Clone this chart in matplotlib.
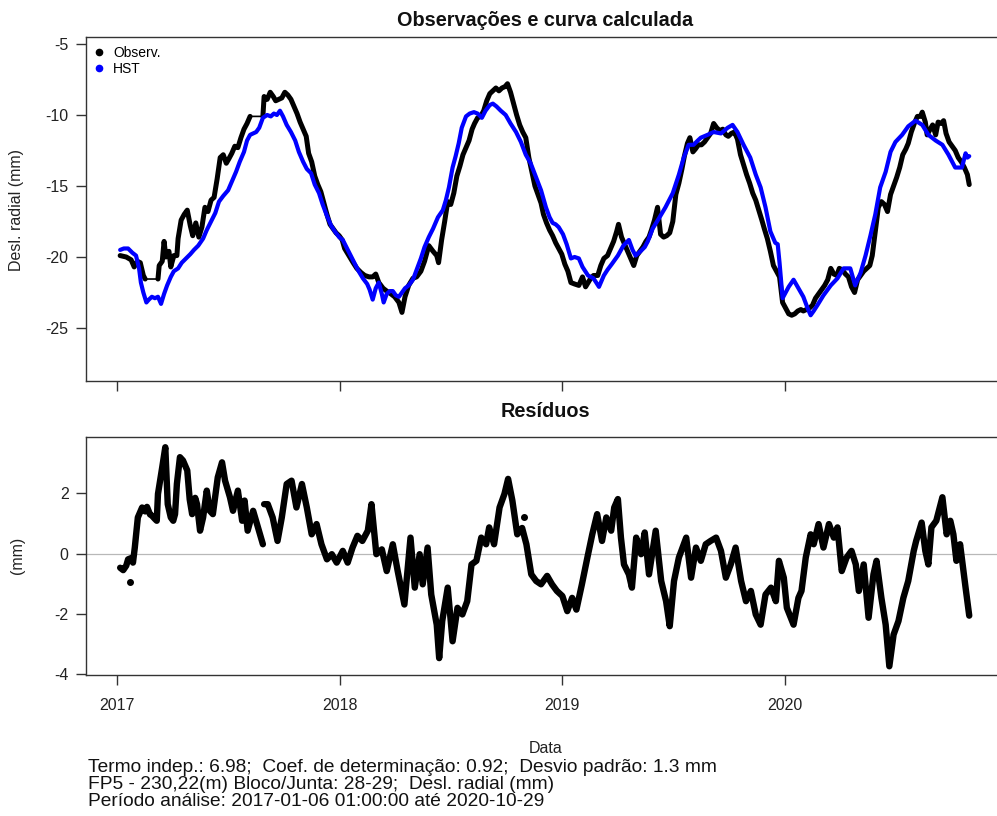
import numpy as np
import matplotlib
matplotlib.use("Agg")
import matplotlib.pyplot as plt
from matplotlib.lines import Line2D

plt.rcParams['font.family'] = ['Liberation Sans', 'DejaVu Sans']
plt.rcParams['axes.unicode_minus'] = False

# days counted from 2017-01-01
start = np.datetime64('2017-01-01')

obs_days = [5, 15, 23, 28, 33, 38, 43, 46, 56, 67,
            69, 74, 77, 80, 85, 88, 93, 98, 100, 105,
            110, 115, 120, 124, 129, 134, 139, 144, 149, 154,
            159, 164, 169, 174, 179, 183, 188, 193, 198, 203,
            208, 213, 218, 228, 239, 241, 246, 251, 256, 260,
            265, 270, 275, 280, 285, 290, 295, 300, 305, 310,
            314, 319, 324, 329, 334, 339, 344, 349, 354, 359,
            364, 369, 373, 380, 387, 393, 400, 406, 413, 419,
            424, 429, 436, 442, 449, 455, 462, 467, 472, 478,
            485, 491, 498, 504, 511, 518, 524, 527, 532, 537,
            542, 547, 552, 557, 562, 567, 572, 577, 582, 586,
            591, 596, 601, 606, 611, 616, 621, 626, 631, 636,
            640, 645, 650, 655, 660, 665, 670, 675, 680, 685,
            690, 695, 699, 704, 709, 714, 719, 724, 729, 734,
            739, 744, 750, 757, 763, 768, 775, 781, 788, 793,
            798, 804, 809, 814, 819, 822, 827, 832, 837, 842,
            847, 852, 857, 862, 867, 872, 876, 881, 886, 891,
            896, 901, 906, 911, 916, 921, 926, 930, 935, 939,
            944, 948, 953, 958, 963, 968, 973, 978, 983, 988,
            993, 998, 1002, 1007, 1012, 1017, 1022, 1027, 1032, 1037,
            1042, 1047, 1052, 1057, 1061, 1066, 1071, 1076, 1081, 1086,
            1091, 1096, 1101, 1106, 1111, 1116, 1121, 1125, 1130, 1135,
            1140, 1145, 1150, 1155, 1160, 1165, 1170, 1175, 1180, 1184,
            1189, 1194, 1199, 1204, 1209, 1214, 1219, 1224, 1229, 1234,
            1238, 1243, 1248, 1253, 1258, 1263, 1268, 1273, 1278, 1283,
            1288, 1293, 1297, 1302, 1307, 1312, 1317, 1320, 1325, 1328,
            1333, 1337, 1342, 1346, 1351, 1355, 1359, 1364, 1369, 1374,
            1379, 1384, 1389, 1394, 1397]
obs_vals = [-19.9, -20.0, -20.2, -20.7, -20.3, -20.4, -21.3, -21.55, np.nan, -21.55,
            -20.6, -20.3, -18.9, -20.0, -19.6, -20.7, -19.9, -19.9, -18.7, -17.4,
            -17.0, -16.7, -17.8, -18.5, -17.6, -18.6, -17.9, -16.5, -16.8, -16.0,
            -15.8, -14.5, -13.0, -12.8, -13.4, -13.1, -12.7, -12.2, -12.3, -11.6,
            -11.0, -10.6, -10.1, np.nan, -10.1, -8.7, -8.9, -8.4, -8.7, -9.0,
            -8.9, -8.8, -8.4, -8.6, -8.9, -9.4, -9.9, -10.5, -11.0, -11.5,
            -12.7, -13.3, -14.3, -14.9, -15.4, -16.2, -17.0, -17.7, -18.0, -18.3,
            -18.5, -18.8, -19.4, -19.9, -20.4, -20.8, -21.1, -21.3, -21.4, -21.4,
            -21.2, -21.8, -22.2, -22.4, -22.6, -22.8, -23.2, -23.9, -22.8, -22.0,
            -21.5, -21.4, -21.0, -20.3, -19.2, -19.6, -19.9, -20.4, -18.8, -17.5,
            -16.1, -16.3, -15.5, -14.3, -13.6, -12.8, -12.3, -11.8, -11.0, -10.6,
            -10.2, -10.1, -9.7, -9.0, -8.5, -8.3, -8.1, -8.3, -8.1, -8.0,
            -7.8, -8.4, -9.2, -10.0, -10.7, -11.2, -11.6, -13.0, -14.0, -15.0,
            -15.6, -16.2, -17.0, -17.6, -18.1, -18.5, -19.0, -19.4, -19.8, -20.5,
            -21.0, -21.8, -21.9, -22.0, -21.4, -22.1, -21.6, -21.3, -21.3, -20.6,
            -20.1, -19.9, -19.4, -18.9, -18.2, -17.7, -18.6, -19.1, -19.6, -20.1,
            -20.6, -19.9, -19.6, -19.3, -18.9, -18.6, -18.1, -17.4, -16.5, -18.4,
            -18.6, -18.5, -18.3, -17.5, -15.6, -14.8, -13.8, -12.9, -12.0, -11.6,
            -12.6, -12.4, -12.1, -12.1, -11.9, -11.6, -11.3, -10.6, -10.9, -11.1,
            -11.0, -11.4, -11.5, -11.3, -11.2, -11.7, -12.8, -13.5, -14.2, -14.8,
            -15.5, -16.0, -16.7, -17.4, -18.0, -18.7, -19.6, -20.6, -21.0, -21.4,
            -23.2, -23.6, -24.0, -24.1, -24.0, -23.8, -23.7, -23.8, -23.7, -23.6,
            -23.4, -22.9, -22.6, -22.3, -22.0, -21.6, -20.8, -21.2, -21.3, -20.8,
            -20.9, -21.2, -21.4, -22.1, -22.5, -21.6, -21.3, -21.0, -20.8, -20.6,
            -19.9, -18.2, -16.5, -16.1, -16.3, -16.8, -15.6, -15.0, -14.4, -13.7,
            -12.8, -12.4, -12.0, -11.2, -10.6, -10.1, -10.1, -9.8, -10.5, -11.4,
            -11.0, -10.7, -11.4, -10.5, -10.6, -10.4, -11.3, -11.9, -12.2, -12.5,
            -13.0, -13.3, -13.7, -14.2, -14.9]

hst_days = [5, 11, 18, 25, 31, 36, 39, 43, 48, 52,
            57, 62, 67, 72, 77, 82, 88, 93, 100, 106,
            113, 120, 126, 133, 141, 147, 154, 161, 167, 174,
            182, 188, 195, 201, 208, 213, 218, 223, 228, 233,
            239, 246, 252, 257, 262, 267, 272, 278, 285, 292,
            298, 305, 311, 318, 324, 331, 337, 344, 351, 357,
            364, 370, 377, 383, 390, 396, 403, 410, 414, 419,
            424, 429, 434, 437, 442, 447, 452, 457, 462, 467,
            472, 478, 485, 491, 498, 504, 511, 518, 526, 534,
            539, 544, 550, 555, 560, 565, 572, 578, 585, 591,
            598, 604, 611, 616, 622, 629, 637, 645, 654, 662,
            670, 678, 686, 695, 703, 709, 714, 719, 724, 731,
            737, 744, 750, 757, 763, 772, 781, 790, 798, 804,
            811, 821, 830, 839, 845, 850, 858, 865, 870, 878,
            888, 899, 911, 921, 929, 937, 945, 952, 957, 968,
            978, 990, 1001, 1009, 1017, 1027, 1038, 1047, 1055, 1063,
            1071, 1079, 1083, 1086, 1091, 1096, 1101, 1109, 1117, 1125,
            1132, 1137, 1142, 1148, 1158, 1170, 1181, 1191, 1202, 1210,
            1219, 1227, 1235, 1243, 1251, 1260, 1268, 1276, 1287, 1297,
            1309, 1320, 1330, 1342, 1353, 1363, 1374, 1385, 1391, 1394, 1397]
hst_vals = [-19.5, -19.4, -19.4, -19.7, -19.9, -20.8, -21.8, -22.5, -23.2, -23.0,
            -22.8, -22.9, -22.8, -23.3, -22.6, -22.0, -21.4, -21.0, -20.8, -20.4,
            -20.1, -19.8, -19.5, -19.2, -18.7, -18.1, -17.5, -16.9, -16.1, -15.7,
            -15.3, -14.7, -14.0, -13.3, -12.6, -11.8, -11.4, -11.3, -11.2, -10.9,
            -10.2, -10.0, -10.1, -9.9, -10.0, -9.7, -10.1, -10.7, -11.2, -11.8,
            -12.6, -13.3, -13.8, -14.1, -14.9, -15.5, -16.3, -17.1, -17.8, -18.2,
            -18.6, -18.8, -19.4, -19.9, -20.5, -21.0, -21.5, -21.9, -22.3, -23.0,
            -22.2, -21.8, -22.6, -23.2, -22.6, -22.4, -22.4, -22.7, -22.8, -22.5,
            -22.2, -22.0, -21.6, -20.9, -20.1, -19.3, -18.6, -18.0, -17.2, -16.7,
            -16.0, -15.1, -13.7, -12.9, -12.0, -10.9, -10.1, -9.9, -9.8, -9.9,
            -10.2, -9.7, -9.3, -9.2, -9.4, -9.7, -10.0, -10.6, -11.2, -11.9,
            -12.8, -13.4, -14.3, -15.3, -16.5, -17.2, -17.6, -17.7, -17.9, -18.4,
            -19.1, -20.1, -20.0, -20.1, -20.7, -21.3, -21.5, -22.1, -21.3, -20.9,
            -20.5, -19.9, -19.2, -18.8, -19.5, -19.9, -19.6, -19.3, -18.9, -18.0,
            -17.3, -16.5, -15.5, -14.2, -13.0, -12.1, -12.1, -11.8, -11.6, -11.4,
            -11.2, -11.3, -10.9, -10.7, -11.2, -12.1, -13.0, -14.2, -15.1, -16.5,
            -18.2, -19.0, -19.1, -20.4, -22.9, -22.5, -22.1, -21.6, -22.2, -22.8,
            -23.6, -24.1, -23.8, -23.4, -22.7, -22.0, -21.5, -20.8, -20.8, -22.0,
            -21.1, -19.9, -18.5, -17.0, -15.1, -14.0, -12.6, -11.9, -11.4, -10.8,
            -10.4, -10.7, -11.4, -11.8, -12.1, -12.8, -13.7, -13.7, -12.7, -13.0, -12.9]

res_days = [5, 10, 15, 18, 23, 26, 29, 34, 41, 46,
            49, 54, 57, 62, 65, 67, 74, 79, 83, 88,
            92, 95, 98, 103, 108, 115, 119, 123, 128, 131,
            136, 141, 147, 152, 157, 165, 172, 177, 185, 190,
            198, 205, 209, 214, 223, 231, 239, 240, 241, 247,
            255, 263, 270, 278, 286, 294, 303, 311, 319, 327,
            335, 344, 352, 360, 370, 378, 386, 394, 402, 411,
            417, 425, 434, 442, 452, 460, 471, 481, 488, 496,
            501, 509, 515, 524, 528, 533, 542, 550, 558, 566,
            574, 581, 589, 597, 605, 610, 618, 627, 635, 641,
            648, 656, 664, 671, 679, 687, 695, 705, 713, 721,
            730, 738, 746, 753, 762, 771, 779, 787, 795, 802,
            810, 815, 821, 826, 831, 839, 844, 851, 859, 865,
            872, 883, 892, 900, 906, 913, 921, 933, 941, 949,
            957, 965, 973, 982, 990, 998, 1006, 1014, 1023, 1031,
            1039, 1047, 1055, 1063, 1072, 1080, 1085, 1093, 1098, 1109,
            1117, 1122, 1129, 1137, 1142, 1150, 1158, 1167, 1175, 1181,
            1188, 1196, 1204, 1211, 1216, 1224, 1232, 1240, 1245, 1253,
            1260, 1266, 1273, 1281, 1289, 1297, 1306, 1310, 1319, 1325,
            1330, 1335, 1343, 1353, 1360, 1366, 1371, 1376, 1382, 1391, 1397]
res_vals = [-0.47, -0.55, -0.40, -0.19, -0.15, -0.30, 0.20, 1.20, 1.53, 1.40,
            1.55, 1.30, 1.26, 1.15, 1.09, 1.98, 2.87, 3.53, 1.64, 1.20,
            1.09, 1.31, 2.31, 3.20, 3.09, 2.76, 1.80, 1.31, 1.85, 1.64,
            0.76, 1.20, 2.09, 1.42, 1.31, 2.53, 3.03, 2.42, 1.87, 1.42,
            2.09, 1.09, 1.76, 0.76, 1.42, 0.87, 0.31, np.nan, 1.64, 1.64,
            1.20, 0.42, 1.20, 2.31, 2.42, 1.53, 2.31, 1.53, 0.64, 0.98,
            0.31, -0.19, -0.02, -0.30, 0.09, -0.30, 0.20, 0.59, 0.42, 0.76,
            1.64, -0.02, 0.14, -0.58, 0.31, -0.58, -1.69, 0.53, -1.13, -0.02,
            -1.02, 0.20, -1.36, -2.36, -3.47, -2.24, -1.13, -2.91, -1.80, -2.02,
            -1.58, -0.36, -0.24, 0.53, 0.31, 0.87, 0.31, 1.53, 1.98, 2.48,
            1.76, 0.64, 0.85, 0.31, -0.69, -0.91, -1.02, -0.74, -1.02, -1.24,
            -1.41, -1.91, -1.47, -1.86, -1.02, -0.13, 0.64, 1.31, 0.42, 1.20,
            0.76, 1.53, 1.81, 0.53, -0.36, -0.69, -1.13, 0.53, -0.02, 0.70,
            -0.69, 0.76, -0.91, -1.58, -2.41, -0.91, -0.13, 0.53, -0.80, 0.20,
            -0.24, 0.31, 0.42, 0.53, 0.09, -0.80, -0.36, 0.20, -0.91, -1.58,
            -1.24, -2.02, -2.36, -1.36, -1.13, -1.58, -0.24, -0.80, -1.80, -2.36,
            -1.47, -1.24, -0.13, 0.64, 0.31, 0.98, 0.20, 0.98, 0.53, 0.87,
            -0.58, -0.13, 0.09, -0.36, -1.24, -0.36, -2.13, -0.69, -0.24, -1.47,
            -2.36, -3.74, -2.69, -2.24, -1.47, -0.91, 0.09, 0.42, 1.03, 0.09,
            -0.36, 0.87, 1.09, 1.87, 0.64, 1.09, 0.64, -0.24, 0.31, -1.13, -2.06]

# stray single residual readings
res_dot_days = [21, 667]
res_dot_vals = [-0.93, 1.2]

year_ticks = ['2017-01-01', '2018-01-01', '2019-01-01', '2020-01-01']
year_labels = ['2017', '2018', '2019', '2020']

footer = ['Termo indep.: 6.98;  Coef. de determinação: 0.92;  Desvio padrão: 1.3 mm',
          'FP5 - 230,22(m) Bloco/Junta: 28-29;  Desl. radial (mm)',
          'Período análise: 2017-01-06 01:00:00 até 2020-10-29']


def to_dates(days):
    return start + np.array(days).astype('timedelta64[D]')


obs_t = to_dates(obs_days)
obs_v = np.array(obs_vals)
ok = ~np.isnan(obs_v)

W, H = 997, 816
fig = plt.figure(figsize=(W / 100, H / 100), dpi=100)
ax1 = fig.add_axes([86 / W, 1 - 381 / H, 918 / W, 344 / H])
ax2 = fig.add_axes([86 / W, 1 - 675 / H, 918 / W, 238 / H])

# observations: thin line bridges missing stretches, thick line over the data
ax1.plot(obs_t[ok], obs_v[ok], color='black', lw=1.2, zorder=2)
ax1.plot(obs_t, obs_v, color='black', lw=3.6, zorder=3,
         solid_joinstyle='round', solid_capstyle='round')
ax1.plot(to_dates(hst_days), hst_vals, color='#0000ff', lw=3.0, zorder=4,
         solid_joinstyle='round', solid_capstyle='round')

ax2.axhline(0, color='#b8b8b8', lw=0.9, zorder=1)
ax2.plot(to_dates(res_days), res_vals, color='black', lw=4.6, zorder=3,
         solid_joinstyle='round', solid_capstyle='round')
ax2.plot(to_dates(res_dot_days), res_dot_vals, 'o', color='black', ms=4, zorder=3)

xmin = start + np.timedelta64(-51, 'D')
xmax = start + np.timedelta64(1454, 'D')
ticks = np.array(year_ticks, dtype='datetime64[D]')
for ax in (ax1, ax2):
    ax.set_xlim(xmin, xmax)
    ax.set_xticks(ticks)
    for s in ax.spines.values():
        s.set_color('#333333')
        s.set_linewidth(1.0)
    ax.tick_params(direction='out', length=7.5, width=1.0, color='#333333',
                   labelsize=11.5, labelcolor='#222222')
    ax.tick_params(axis='y', pad=5)
    ax.tick_params(axis='x', pad=9)

ax1.set_xticklabels([])
ax1.set_ylim(-28.73, -4.51)
ax1.set_yticks([-25, -20, -15, -10, -5])
ax2.set_xticklabels(year_labels)
ax2.set_ylim(-4.03, 3.87)
ax2.set_yticks([-4, -2, 0, 2])

handles = [Line2D([], [], ls='none', marker='o', ms=4.5, color='black'),
           Line2D([], [], ls='none', marker='o', ms=4.5, color='#0000ff')]
ax1.legend(handles, ['Observ.', 'HST'], loc='upper left', frameon=False,
           fontsize=10, handlelength=0.6, handletextpad=0.7, labelspacing=0.12,
           borderaxespad=0.45, borderpad=0.2)

cx = (86 + 1004) / 2 / W
fig.text(cx, 1 - 26 / H, 'Observações e curva calculada', ha='center',
         va='baseline', fontsize=14.3, fontweight='bold', color='#111111')
fig.text(cx, 1 - 417 / H, 'Resíduos', ha='center', va='baseline',
         fontsize=14.3, fontweight='bold', color='#111111')
fig.text(17 / W, 1 - 210 / H, 'Desl. radial (mm)', rotation=90, ha='center',
         va='center', fontsize=11.5, color='#222222')
fig.text(17 / W, 1 - 555 / H, '(mm)', rotation=90, ha='center', va='center',
         fontsize=11.5, color='#222222')
fig.text(546 / W, 1 - 753 / H, 'Data', ha='center', va='baseline',
         fontsize=11.5, color='#222222')
for i, line in enumerate(footer):
    fig.text(88 / W, 1 - (772 + 17 * i) / H, line, ha='left', va='baseline',
             fontsize=13.8, color='#111111')

fig.savefig('out.png', dpi=100)
